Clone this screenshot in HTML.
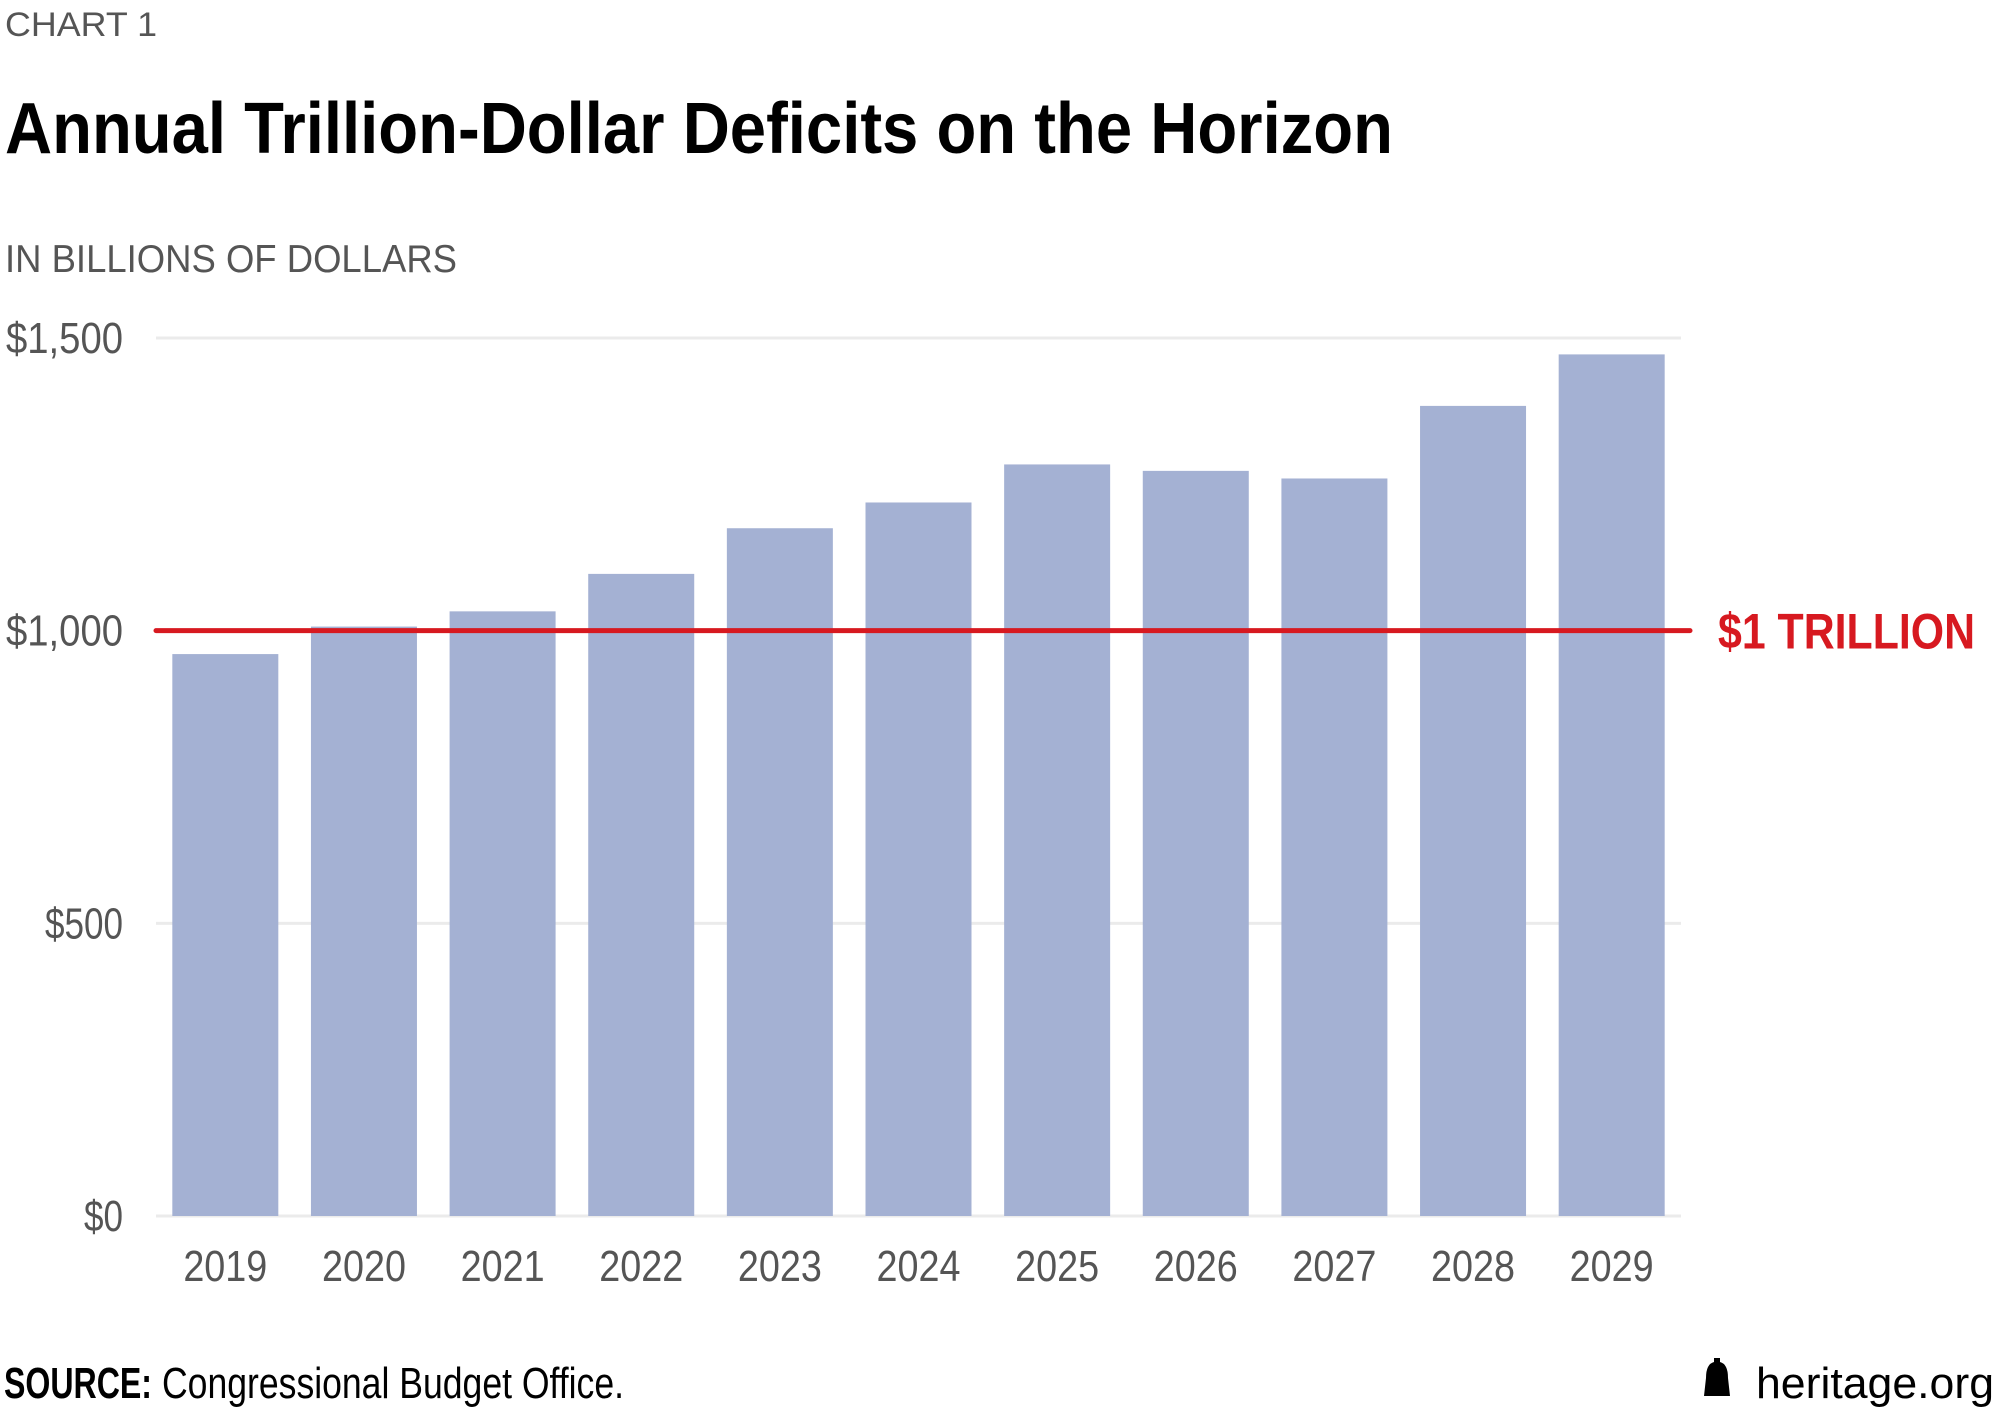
<!DOCTYPE html>
<html><head><meta charset="utf-8">
<style>
html,body{margin:0;padding:0;background:#fff;}
svg{display:block;font-family:"Liberation Sans",sans-serif;}
</style></head>
<body>
<svg id="chart" width="2000" height="1420" viewBox="0 0 2000 1420" xmlns="http://www.w3.org/2000/svg">
  <text x="5" y="36" font-size="34" fill="#555" textLength="152" lengthAdjust="spacingAndGlyphs">CHART 1</text>
  <text x="5" y="153" font-size="72" font-weight="bold" fill="#000" textLength="1388" lengthAdjust="spacingAndGlyphs">Annual Trillion-Dollar Deficits on the Horizon</text>
  <text x="5" y="272" font-size="39" fill="#555" textLength="452" lengthAdjust="spacingAndGlyphs">IN BILLIONS OF DOLLARS</text>
  <g id="grid"></g>
  <g id="bars"></g>
  <g id="yticks"></g>
  <g id="xticks"></g>
  <g id="ref"></g>
  <text x="4" y="1398" font-size="44" font-weight="bold" fill="#000" textLength="148" lengthAdjust="spacingAndGlyphs">SOURCE:</text>
  <text x="162" y="1398" font-size="44" fill="#000" textLength="462" lengthAdjust="spacingAndGlyphs">Congressional Budget Office.</text>
  <g>
    <path d="M1704 1396 L1706 1378 Q1706 1364 1714 1362 L1714 1358 L1720 1358 L1720 1362 Q1728 1364 1728 1378 L1730 1396 Z" fill="#000"/>
    <text x="1756" y="1398" font-size="44" fill="#000" textLength="238" lengthAdjust="spacingAndGlyphs">heritage.org</text>
  </g>
</svg>
<script>
const categories = ["2019","2020","2021","2022","2023","2024","2025","2026","2027","2028","2029"];
const deficits = [960, 1007, 1033, 1097, 1175, 1219, 1284, 1273, 1260, 1384, 1472];
const yTicks = [0, 500, 1000, 1500];
const yTickLabels = ["$0", "$500", "$1,000", "$1,500"];
const refValue = 1000;
const refLabel = "$1 TRILLION";

const NS = "http://www.w3.org/2000/svg";
const plotLeft = 156, plotRight = 1681, yZero = 1216, yTop = 338, yMax = 1500;
const yScale = v => yZero - (v / yMax) * (yZero - yTop);
const step = (plotRight - plotLeft) / categories.length;
const xCenter = i => plotLeft + step * (i + 0.5);
const barW = 106;
function mk(tag, attrs, parent) {
  const e = document.createElementNS(NS, tag);
  for (const k in attrs) e.setAttribute(k, attrs[k]);
  parent.appendChild(e);
  return e;
}
const grid = document.getElementById('grid');
const yt = document.getElementById('yticks');
yTicks.forEach((t, i) => {
  const l = mk('line', {x1: plotLeft, x2: plotRight, y1: yScale(t), y2: yScale(t), stroke: '#ebebeb', 'stroke-width': 3}, grid);
  
  
  const lbl = yTickLabels[i];
  const tx = mk('text', {x: 123, y: yScale(t) + 15, 'font-size': 44, fill: '#555', 'text-anchor': 'end', textLength: lbl.length * 19.5, lengthAdjust: 'spacingAndGlyphs'}, yt);
  tx.textContent = lbl;
  
  
});
const bars = document.getElementById('bars');
const xt = document.getElementById('xticks');
categories.forEach((c, i) => {
  const y = yScale(deficits[i]);
  const r = mk('rect', {x: xCenter(i) - barW / 2, y: y, width: barW, height: yZero - y, fill: '#a4b1d3'}, bars);
  
  
  const tx = mk('text', {x: xCenter(i), y: 1281, 'font-size': 44, fill: '#555', 'text-anchor': 'middle', textLength: 84, lengthAdjust: 'spacingAndGlyphs'}, xt);
  tx.textContent = c;
  
  
});
const ref = document.getElementById('ref');
const rl = mk('line', {x1: plotLeft, x2: 1690, y1: yScale(refValue), y2: yScale(refValue), stroke: '#d71920', 'stroke-width': 5, 'stroke-linecap': 'round'}, ref);


const rt = mk('text', {x: 1718, y: yScale(refValue) + 18, 'font-size': 50, 'font-weight': 'bold', fill: '#d71920', textLength: 257, lengthAdjust: 'spacingAndGlyphs'}, ref);
rt.textContent = refLabel;


</script>
</body></html>
